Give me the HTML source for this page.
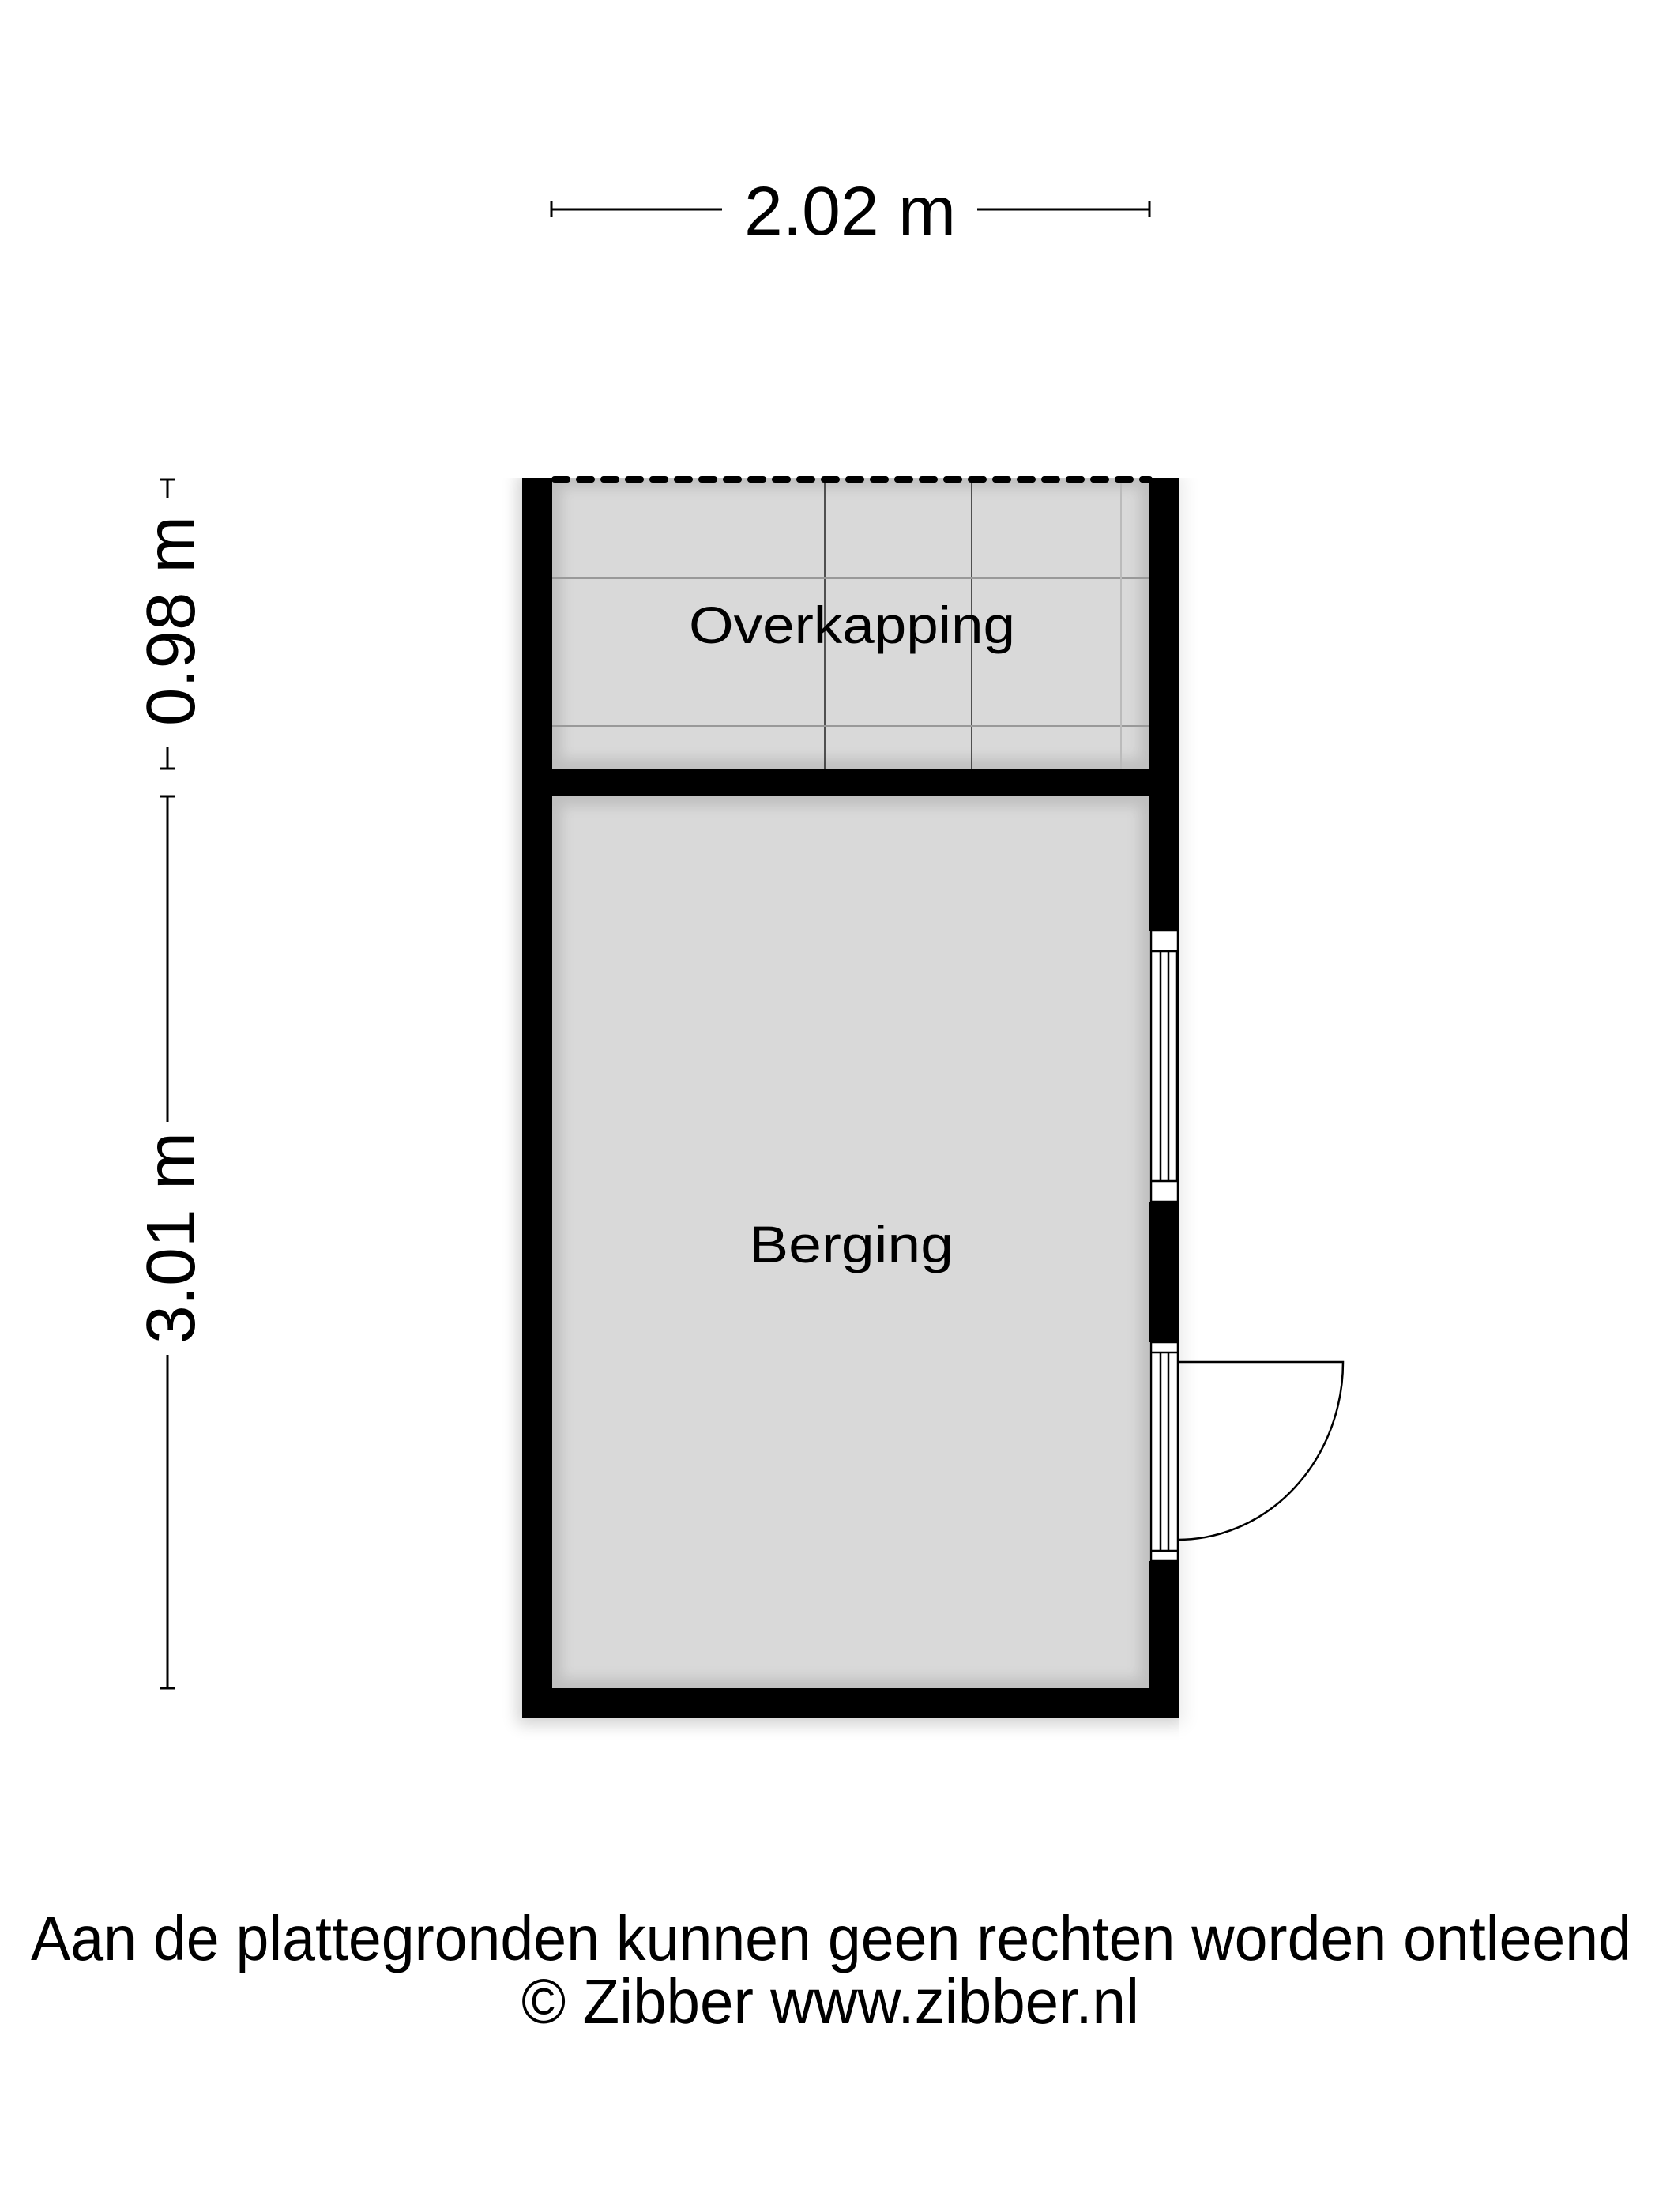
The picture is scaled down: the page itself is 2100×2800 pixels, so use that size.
<!DOCTYPE html>
<html><head><meta charset="utf-8"><style>html,body{margin:0;padding:0;background:#fff}svg{display:block}</style></head><body>
<svg width="2100" height="2800" viewBox="0 0 2100 2800" xmlns="http://www.w3.org/2000/svg" font-family="Liberation Sans, Arial, sans-serif">
<defs>
<filter id="sh" x="-20%" y="-20%" width="140%" height="140%"><feGaussianBlur stdDeviation="10"/></filter>
<filter id="ish" x="-10%" y="-10%" width="120%" height="120%"><feGaussianBlur stdDeviation="8"/></filter>
</defs>
<!-- outer shadow -->
<rect x="655" y="600" width="845" height="1583" fill="#000" opacity="0.18" filter="url(#sh)"/>
<!-- floors -->
<rect x="661" y="605" width="831" height="1570" fill="#fff"/>
<rect x="699" y="605" width="756" height="368" fill="#d9d9d9"/>
<rect x="699" y="1008" width="756" height="1129" fill="#d9d9d9"/>
<!-- inner shading -->
<g clip-path="none">
<rect x="699" y="605" width="756" height="368" fill="none" stroke="#000" stroke-opacity="0.12" stroke-width="24" filter="url(#ish)"/>
<rect x="699" y="1008" width="756" height="1129" fill="none" stroke="#000" stroke-opacity="0.12" stroke-width="24" filter="url(#ish)"/>
</g>
<rect x="0" y="0" width="2100" height="605" fill="#fff"/>
<rect x="1492" y="600" width="608" height="1600" fill="#fff" opacity="0.6"/>
<!-- grid -->
<g stroke="#222" stroke-width="1.5">
<line x1="1044" y1="605" x2="1044" y2="973"/>
<line x1="1230" y1="605" x2="1230" y2="973"/>
</g>
<g stroke="#999" stroke-width="2">
<line x1="699" y1="732" x2="1455" y2="732"/>
<line x1="699" y1="919" x2="1455" y2="919"/>
<line x1="1419" y1="605" x2="1419" y2="973" stroke="#bbb"/>
</g>
<!-- dashed top -->
<line x1="702" y1="607" x2="1455" y2="607" stroke="#000" stroke-width="8" stroke-dasharray="16 15" stroke-linecap="round"/>
<!-- walls -->
<g fill="#000">
<rect x="661" y="605" width="38" height="1570"/>
<rect x="661" y="2137" width="831" height="38"/>
<rect x="661" y="973" width="831" height="35"/>
<rect x="1455" y="605" width="37" height="573"/>
<rect x="1455" y="1521" width="37" height="178"/>
<rect x="1455" y="1976" width="37" height="199"/>
</g>
<!-- window -->
<g fill="#fff" stroke="#000" stroke-width="2.5">
<rect x="1457" y="1178" width="34" height="343"/>
<line x1="1457" y1="1204" x2="1491" y2="1204"/>
<line x1="1457" y1="1495" x2="1491" y2="1495"/>
<line x1="1469" y1="1204" x2="1469" y2="1495"/>
<line x1="1479" y1="1204" x2="1479" y2="1495"/>
<line x1="1489" y1="1204" x2="1489" y2="1495"/>
</g>
<!-- door -->
<g fill="#fff" stroke="#000" stroke-width="2.5">
<rect x="1457" y="1699" width="34" height="277"/>
<line x1="1457" y1="1712" x2="1491" y2="1712"/>
<line x1="1457" y1="1963" x2="1491" y2="1963"/>
<line x1="1469" y1="1712" x2="1469" y2="1963"/>
<line x1="1479" y1="1712" x2="1479" y2="1963"/>
</g>
<path d="M1491 1724 L1700 1724 A209 225 0 0 1 1491 1949" fill="none" stroke="#000" stroke-width="2.5"/>
<!-- dimensions -->
<g stroke="#000" stroke-width="3">
<line x1="698" y1="265" x2="914" y2="265"/><line x1="698" y1="255" x2="698" y2="275"/>
<line x1="1237" y1="265" x2="1455" y2="265"/><line x1="1455" y1="255" x2="1455" y2="275"/>
<line x1="212" y1="607" x2="212" y2="630"/><line x1="202" y1="607" x2="222" y2="607"/>
<line x1="212" y1="945" x2="212" y2="973"/><line x1="202" y1="973" x2="222" y2="973"/>
<line x1="212" y1="1008" x2="212" y2="1420"/><line x1="202" y1="1008" x2="222" y2="1008"/>
<line x1="212" y1="1715" x2="212" y2="2137"/><line x1="202" y1="2137" x2="222" y2="2137"/>
</g>
<g fill="#000">
<text x="942" y="297" font-size="87" textLength="268" lengthAdjust="spacingAndGlyphs">2.02 m</text>
<text transform="translate(246,919) rotate(-90)" font-size="87" textLength="266" lengthAdjust="spacingAndGlyphs">0.98 m</text>
<text transform="translate(246,1701) rotate(-90)" font-size="87" textLength="268" lengthAdjust="spacingAndGlyphs">3.01 m</text>
<text x="872" y="814" font-size="66" textLength="413" lengthAdjust="spacingAndGlyphs">Overkapping</text>
<text x="948" y="1598" font-size="66" textLength="259" lengthAdjust="spacingAndGlyphs">Berging</text>
<text x="39" y="2481" font-size="80" textLength="2026" lengthAdjust="spacingAndGlyphs">Aan de plattegronden kunnen geen rechten worden ontleend</text>
<text x="660" y="2561" font-size="80" textLength="782" lengthAdjust="spacingAndGlyphs">© Zibber www.zibber.nl</text>
</g>
</svg>
</body></html>
